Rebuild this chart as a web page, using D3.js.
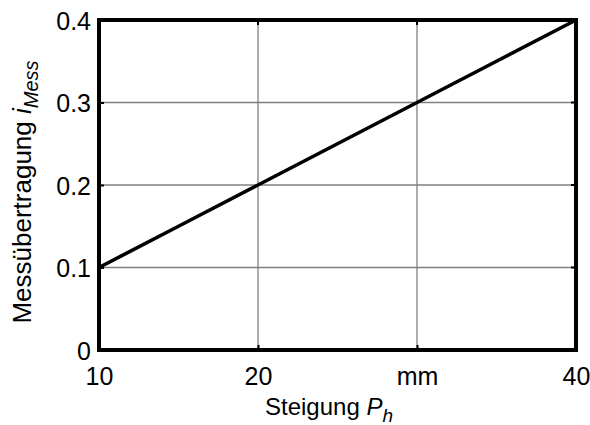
<!DOCTYPE html>
<html><head><meta charset="utf-8">
<script src="https://cdn.jsdelivr.net/npm/d3@7"></script>
<style>body{margin:0;background:#fff}svg{font-family:"Liberation Sans",Arial,sans-serif}</style>
</head><body><svg id="c" width="590" height="425"></svg>
<script>
const xTicks = [10, 20, 30, 40];
const xTickLabels = ["10", "20", "mm", "40"];
const yTicks = [0, 0.1, 0.2, 0.3, 0.4];
const yTickLabels = ["0", "0.1", "0.2", "0.3", "0.4"];
const pitch = [10, 15, 20, 25, 30, 35, 40];
const ratio = [0.1, 0.15, 0.2, 0.25, 0.3, 0.35, 0.4];

const svg = d3.select("#c");
const L = 99, R = 576, T = 20, B = 350;
const x = d3.scaleLinear().domain([10, 40]).range([L, R]);
const y = d3.scaleLinear().domain([0, 0.4]).range([B, T]);
const fs = 24, sfs = 19, tfs = 25;

// grid
svg.append("g").selectAll("line").data(xTicks.slice(1, -1)).join("line")
  .attr("x1", d => x(d)).attr("x2", d => x(d)).attr("y1", T).attr("y2", B)
  .attr("stroke", "#808080").attr("stroke-width", 1.3);
svg.append("g").selectAll("line").data(yTicks.slice(1, -1)).join("line")
  .attr("y1", d => y(d)).attr("y2", d => y(d)).attr("x1", L).attr("x2", R)
  .attr("stroke", "#808080").attr("stroke-width", 1.3);

// axes with inward ticks
const xa = svg.append("g").attr("transform", `translate(0,${B})`)
  .call(d3.axisBottom(x).tickValues(xTicks).tickFormat((d, i) => xTickLabels[i]).tickSize(-5).tickPadding(0));
const ya = svg.append("g").attr("transform", `translate(${L},0)`)
  .call(d3.axisLeft(y).tickValues(yTicks).tickFormat((d, i) => yTickLabels[i]).tickSize(-5).tickPadding(8));
[xa, ya].forEach(a => {
  a.select(".domain").remove();
  a.attr("font-size", tfs).attr("font-family", "Liberation Sans, Arial, sans-serif");
  a.selectAll(".tick line").attr("stroke", "#000").attr("stroke-width", 2);
  a.selectAll("text").attr("fill", "#000");
});
xa.selectAll("text").attr("y", 35).attr("dy", null);
ya.selectAll("text").attr("dy", "0.36em");

// top/right ticks
svg.append("g").selectAll("line").data(xTicks).join("line")
  .attr("x1", d => x(d)).attr("x2", d => x(d)).attr("y1", T).attr("y2", T + 5)
  .attr("stroke", "#000").attr("stroke-width", 2);
svg.append("g").selectAll("line").data(yTicks).join("line")
  .attr("y1", d => y(d)).attr("y2", d => y(d)).attr("x1", R).attr("x2", R - 5)
  .attr("stroke", "#000").attr("stroke-width", 2);

// frame
svg.append("rect").attr("x", L).attr("y", T).attr("width", R - L).attr("height", B - T)
  .attr("fill", "none").attr("stroke", "#000").attr("stroke-width", 4);

// line
svg.append("path").datum(pitch.map((p, i) => [p, ratio[i]]))
  .attr("d", d3.line().x(d => x(d[0])).y(d => y(d[1])))
  .attr("fill", "none").attr("stroke", "#000").attr("stroke-width", 3.6);

// x label
const xl = svg.append("text").attr("x", 265).attr("y", 415).attr("text-anchor", "start")
  .attr("font-size", fs).attr("fill", "#000");
xl.append("tspan").text("Steigung ");
xl.append("tspan").attr("font-style", "italic").text("P");
xl.append("tspan").attr("font-style", "italic").attr("font-size", sfs).attr("dy", 7).text("h");

// y label
const yl = svg.append("text").attr("transform", "translate(31,192) rotate(-90)").attr("text-anchor", "middle")
  .attr("font-size", 26).attr("fill", "#000");
yl.append("tspan").text("Messübertragung ");
yl.append("tspan").attr("font-style", "italic").text("i");
yl.append("tspan").attr("font-style", "italic").attr("font-size", 20).attr("dy", 7).text("Mess");
</script></body></html>
